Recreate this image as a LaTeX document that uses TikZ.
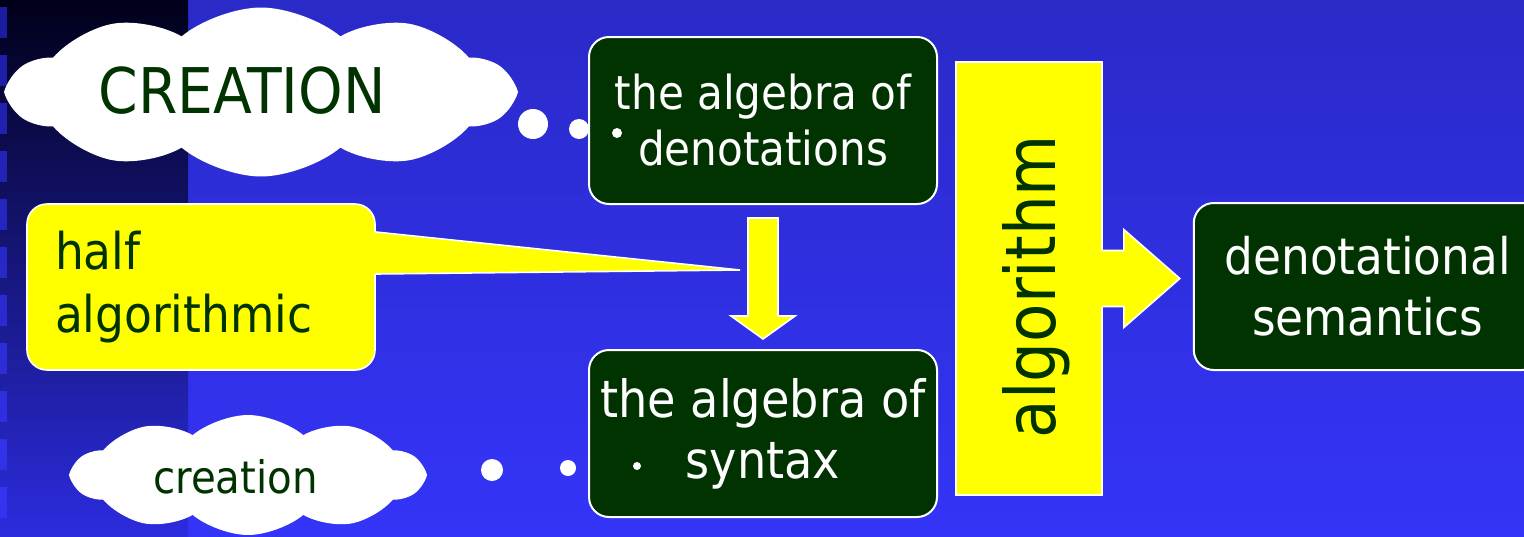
\documentclass[tikz,border=0pt]{standalone}
\usepackage{fontspec}
\setmainfont{DejaVu Sans Condensed}
\usetikzlibrary{positioning,shapes.symbols,calc}

\definecolor{bgtop}{RGB}{42,42,200}
\definecolor{bgbot}{RGB}{52,52,248}
\definecolor{striptop}{RGB}{0,0,26}
\definecolor{stripbot}{RGB}{44,44,222}
\definecolor{sqtop}{RGB}{28,28,160}
\definecolor{sqbot}{RGB}{52,52,240}
\definecolor{deepgreen}{RGB}{0,51,0}
\definecolor{signyellow}{RGB}{255,255,0}

\begin{document}
\begin{tikzpicture}[
    x=0.5pt, y=-0.5pt,
    darkbox/.style={
      rectangle, rounded corners=10pt, draw=white, line width=1pt,
      fill=deepgreen, text=white, align=center, inner sep=0pt,
      minimum width=174pt, minimum height=83.5pt
    },
    yellowbox/.style={rectangle, draw=white, line width=0.8pt, fill=signyellow, text=deepgreen},
    puff/.style={cloud, cloud puffs=10, cloud puff arc=80, aspect=3, fill=white, draw=none, inner sep=0pt},
    bubble/.style={circle, fill=white, draw=none, inner sep=0pt},
    cloudword/.style={text=deepgreen, anchor=base},
    arrowfill/.style={fill=signyellow},
    arrowedge/.style={draw=white, line width=0.8pt, line join=miter}
  ]
    \useasboundingbox (0,0) rectangle (1524,536);
    \clip (0,0) rectangle (1524,536);

    % ── Background ──
    \shade[top color=bgtop, bottom color=bgbot] (0,0) rectangle (1524,536);
    \shade[top color=striptop, bottom color=stripbot] (0,0) rectangle (188,536);
    \foreach \i in {0,...,10}{
      \pgfmathtruncatemacro\mix{10*\i}
      \colorlet{sqcol}{sqbot!\mix!sqtop}
      \fill[sqcol] (0,{7+48*\i}) rectangle ++(7,31);
    }

    % ── Clouds ──
    \node[puff, minimum width=251pt, minimum height=84.5pt] (bigcloud) at (261,92) {};
    \node[cloudword, font=\fontsize{31.5}{36}\selectfont] (bigword) at (242,113) {CREATION};
    \node[puff, minimum width=175pt, minimum height=60pt] (smallcloud) at (248,475) {};
    \node[cloudword, font=\fontsize{22.4}{26}\selectfont] (smallword) at (235.5,493) {creation};

    % ── Thought bubbles ──
    \node[bubble, minimum size=15pt] (dotA) at (533,124) {};
    \node[bubble, minimum size=10pt] (dotB) at (579,129) {};
    \node[bubble, minimum size=11pt] (dotC) at (492,470) {};
    \node[bubble, minimum size=8pt] (dotD) at (568,468) {};

    % ── Algebras ──
    \node[darkbox, font=\fontsize{23.4}{28}\selectfont] (denot) at (763,120.5) {the algebra of\\denotations};
    \node[darkbox, font=\fontsize{25.7}{30.5}\selectfont, below=72pt of denot] (syntax) {the algebra of\\syntax};
    \node[bubble, minimum size=5pt] (bulletA) at (617,133) {};
    \node[bubble, minimum size=4pt] (bulletB) at (637,466) {};

    % ── Half algorithmic callout ──
    \node[yellowbox, rounded corners=10pt, minimum width=174pt, minimum height=83pt,
          text width=146pt, inner xsep=14pt, align=left,
          font=\fontsize{25.3}{31.5}\selectfont] (halfbox) at (201,287) {half\\algorithmic};
    \coordinate (halftip) at (740,270);
    \fill[arrowfill] ($(halfbox.east)+(-4,-55)$) -- (halftip) -- ($(halfbox.east)+(-4,-13)$) -- cycle;
    \draw[arrowedge] ($(halfbox.east)+(0,-55)$) -- (halftip) -- ($(halfbox.east)+(0,-13)$);

    % ── Down arrow ──
    \coordinate (downtop) at ($(denot.south)+(0,13)$);
    \filldraw[arrowfill, arrowedge] (downtop) ++(-15,0) -- ++(30,0) -- ++(0,98) -- ++(17,0)
      -- ++(-32,23) -- ++(-32,-23) -- ++(17,0) -- cycle;

    % ── Algorithm bar ──
    \node[yellowbox, minimum width=73pt, minimum height=216.5pt, inner sep=0pt] (algbar) at (1029,278.5) {};
    \node[text=deepgreen, rotate=90, font=\fontsize{34.9}{40}\selectfont] (algword)
      at ($(algbar.center)+(7.5,8)$) {algorithm};
    \fill[arrowfill] (algbar.east) ++(-3,-28) -- ++(24,0) -- ++(0,-21) -- ++(56,49)
      -- ++(-56,49) -- ++(0,-21) -- ++(-24,0) -- cycle;
    \draw[arrowedge] (algbar.east) ++(0,-28) -- ++(21,0) -- ++(0,-21) -- ++(56,49)
      -- ++(-56,49) -- ++(0,-21) -- ++(-21,0);

    % ── Result ──
    \node[darkbox, font=\fontsize{25.2}{30.5}\selectfont, right=45pt of algbar, yshift=-4pt] (sem) {denotational\\semantics};

  \end{tikzpicture}
\end{document}
